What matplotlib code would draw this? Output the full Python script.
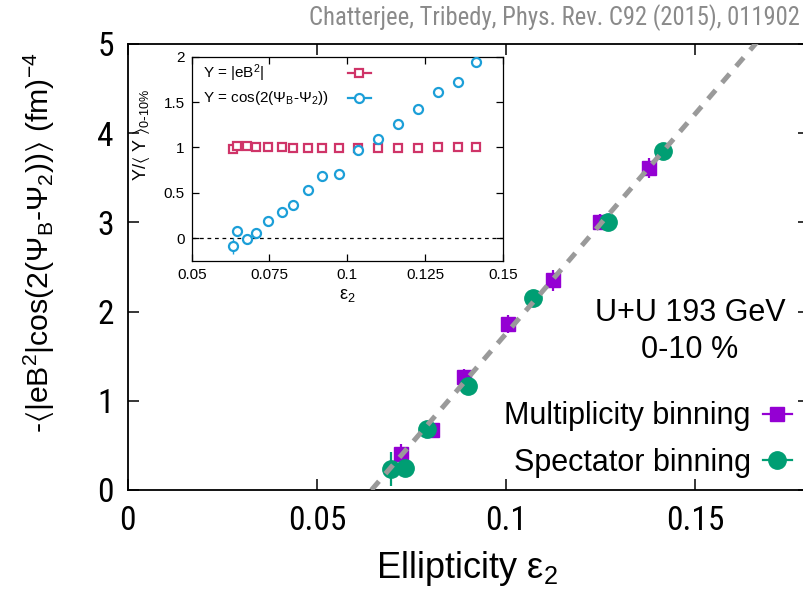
import matplotlib
matplotlib.use("Agg")
import matplotlib.pyplot as plt
from matplotlib import font_manager
from matplotlib.lines import Line2D

# main panel: field-geometry correlator vs ellipticity, two binning schemes
mult_eps = [0.0721, 0.0803, 0.0889, 0.1005, 0.1124, 0.1248, 0.1377]
mult_val = [0.40, 0.67, 1.27, 1.86, 2.35, 3.00, 3.61]
mult_err = [0.12, 0.08, 0.09, 0.10, 0.12, 0.09, 0.11]

spec_eps = [0.0695, 0.0732, 0.0790, 0.0900, 0.1070, 0.1268, 0.1415]
spec_val = [0.24, 0.25, 0.68, 1.17, 2.15, 3.01, 3.80]
spec_err = [0.19, 0.03, 0.03, 0.03, 0.03, 0.03, 0.03]

# straight-line fit y = slope * (eps - eps0)
fit_slope = 49.3
fit_eps0 = 0.0644

main_xticks = [0, 0.05, 0.1, 0.15]
main_xlabels = ["0", "0.05", "0.1", "0.15"]
main_yticks = [0, 1, 2, 3, 4, 5]
main_ylabels = ["0", "1", "2", "3", "4", "5"]

# inset: ratios to the 0-10% average
inset_eps = [0.0632, 0.0647, 0.0679, 0.0707, 0.0744, 0.0789, 0.0827, 0.0873,
             0.0920, 0.0975, 0.1035, 0.1098, 0.1162, 0.1227, 0.1291, 0.1357, 0.1415]
inset_eb2 = [0.98, 1.01, 1.02, 1.00, 1.00, 1.00, 0.995, 0.99,
             0.99, 0.995, 0.99, 0.995, 0.995, 0.995, 1.00, 1.00, 1.00]
inset_eb2_err = [0.02] * 17
inset_cos = [-0.09, 0.08, -0.01, 0.055, 0.19, 0.29, 0.36, 0.53,
             0.68, 0.71, 0.975, 1.09, 1.26, 1.42, 1.61, 1.725, 1.94]
inset_cos_err = [0.09, 0.03, 0.03, 0.03, 0.03, 0.03, 0.03, 0.03,
                 0.03, 0.03, 0.03, 0.03, 0.03, 0.03, 0.03, 0.03, 0.03]

inset_xticks = [0.05, 0.075, 0.1, 0.125, 0.15]
inset_xlabels = ["0.05", "0.075", "0.1", "0.125", "0.15"]
inset_yticks = [0, 0.5, 1, 1.5, 2]
inset_ylabels = ["0", "0.5", "1", "1.5", "2"]
inset_names = ["Y = |eB$^{2}$|", r"Y = cos(2($\Psi_{B}$-$\Psi_{2}$))"]

PURPLE = "#9400d3"
GREEN = "#009e73"
PINK = "#cf3468"
BLUE = "#1c9fd8"
GRAY = "#9a9a9a"

installed = {f.name for f in font_manager.fontManager.ttflist}
condensed_dejavu = any(f.name == "DejaVu Sans" and "Condensed" in f.fname
                       for f in font_manager.fontManager.ttflist)

SANS = "Liberation Sans" if "Liberation Sans" in installed else "DejaVu Sans"

# narrow face for tick numbers and the citation line
narrow = dict(family=SANS)
narrow_scale = 0.85
for name in ("Liberation Sans Narrow", "Arial Narrow", "Roboto Condensed",
             "Open Sans Condensed", "Nimbus Sans Narrow", "DejaVu Sans Condensed"):
    if name in installed:
        narrow = dict(family=name)
        narrow_scale = 1.0
        break
else:
    if condensed_dejavu:
        narrow = dict(family="DejaVu Sans", fontstretch="condensed")
        narrow_scale = 0.92

plt.rcParams["font.family"] = [SANS, "DejaVu Sans"]
plt.rcParams["mathtext.default"] = "regular"

fig = plt.figure(figsize=(8.04, 5.90), dpi=100)
W, H = 804.0, 590.0

# main axes (right spine sits just past the figure edge)
ax = fig.add_axes([127.7 / W, 1 - 490 / H, (809 - 127.7) / W, (490 - 44) / H])
ax.set_xlim(0, 0.18)
ax.set_ylim(0, 5)
for sp in ax.spines.values():
    sp.set_linewidth(1.3)

ax.errorbar(mult_eps, mult_val, yerr=mult_err, fmt="s", color=PURPLE,
            ms=10, elinewidth=1.6, capsize=0, zorder=3)
ax.errorbar(spec_eps, spec_val, yerr=spec_err, fmt="o", color=GREEN,
            ms=12.5, elinewidth=1.6, capsize=0, zorder=4)

fit_x = [fit_eps0, 0.18]
fit_y = [fit_slope * (x - fit_eps0) for x in fit_x]
ax.plot(fit_x, fit_y, color=GRAY, lw=3.6, dashes=(2.3, 2.0),
        solid_capstyle="butt", dash_capstyle="butt", zorder=5)

ax.set_xticks(main_xticks)
ax.set_xticklabels(main_xlabels)
ax.set_yticks(main_yticks)
ax.set_yticklabels(main_ylabels)
ax.tick_params(direction="in", length=8, width=1.1, top=True, right=True,
               labelsize=24 * narrow_scale)
ax.tick_params(axis="x", pad=11)
ax.tick_params(axis="y", pad=10)
for lbl in ax.get_xticklabels() + ax.get_yticklabels():
    lbl.set_fontfamily(narrow["family"])
    if "fontstretch" in narrow:
        lbl.set_fontstretch(narrow["fontstretch"])

handles = [
    Line2D([], [], color=PURPLE, marker="s", ms=10, lw=1.6),
    Line2D([], [], color=GREEN, marker="o", ms=12.5, lw=1.6),
]
ax.legend(handles, ["Multiplicity binning", "Spectator binning"],
          loc="lower right", bbox_to_anchor=(792 / W, 1 - 478 / H),
          bbox_transform=fig.transFigure, frameon=False, fontsize=22,
          markerfirst=False, handlelength=0.95, handletextpad=0.4,
          labelspacing=0.55, borderpad=0, borderaxespad=0)

fig.text(690 / W, 1 - 313 / H, "U+U 193 GeV", fontsize=22,
         ha="center", va="center")
fig.text(690 / W, 1 - 350 / H, "0-10 %", fontsize=22,
         ha="center", va="center")

fig.text(39 / W, 1 - 243 / H,
         r"-$\langle$|eB$^{2}$|cos(2($\Psi_{B}$-$\Psi_{2}$))$\rangle$ (fm)$^{-4}$",
         rotation=90, fontsize=21.8, ha="center", va="center")
fig.text(467 / W, 1 - 568 / H, r"Ellipticity $\epsilon_{2}$",
         fontsize=26, ha="center", va="center")
fig.text(800 / W, 1 - 18 / H,
         "Chatterjee, Tribedy, Phys. Rev. C92 (2015), 011902",
         fontsize=17.7 * narrow_scale, color="#8a8a8a", ha="right", va="center",
         **narrow)

# inset
axi = fig.add_axes([191.7 / W, 1 - 260.7 / H, (502.7 - 191.7) / W, (260.7 - 56.7) / H])
axi.set_facecolor("white")
axi.set_zorder(10)
axi.set_xlim(0.05, 0.15)
axi.set_ylim(-0.25, 2)
for sp in axi.spines.values():
    sp.set_linewidth(0.9)

axi.axhline(0, color="black", lw=0.9, dashes=(3, 3), zorder=1)
axi.errorbar(inset_eps, inset_eb2, yerr=inset_eb2_err, fmt="s", color=PINK,
             mfc="white", mew=1.6, ms=6, elinewidth=1.0, capsize=0, zorder=3)
axi.errorbar(inset_eps, inset_cos, yerr=inset_cos_err, fmt="o", color=BLUE,
             mfc="white", mew=1.6, ms=6.5, elinewidth=1.0, capsize=0, zorder=3)

axi.set_xticks(inset_xticks)
axi.set_xticklabels(inset_xlabels)
axi.set_yticks(inset_yticks)
axi.set_yticklabels(inset_ylabels)
axi.tick_params(direction="in", length=5, width=0.9, top=True, right=True,
                labelsize=11, pad=5)

# key with left-aligned labels and the symbols in a column to their right
key_colors = [PINK, BLUE]
key_markers = [("s", 6), ("o", 6.5)]
for i, name in enumerate(inset_names):
    yk = 1 - (73 + 25 * i - 56.7) / 204.0
    col = key_colors[i]
    mk, size = key_markers[i]
    axi.text(0.036, yk, name, transform=axi.transAxes, fontsize=11,
             ha="left", va="center")
    axi.plot([0.503, 0.576], [yk, yk], transform=axi.transAxes,
             color=col, lw=1.6)
    axi.plot([0.5395], [yk], transform=axi.transAxes, color=col,
             marker=mk, ms=size, mfc="white", mew=1.6, ls="none")

fig.text(142 / W, 1 - 135 / H, r"Y/$\langle$ Y $\rangle_{0\text{-}10\%}$",
         rotation=90, fontsize=13, ha="center", va="center")
fig.text(347 / W, 1 - 296 / H, r"$\epsilon_{2}$", fontsize=13,
         ha="center", va="center")

fig.savefig("out.png", dpi=100)
